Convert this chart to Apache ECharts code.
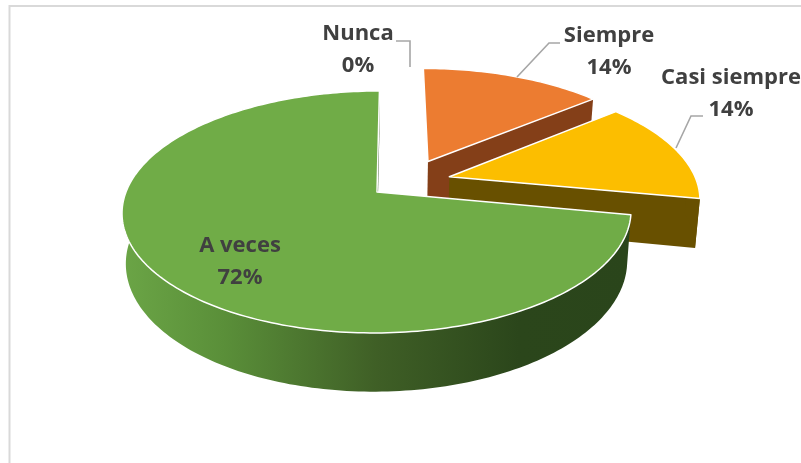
<!DOCTYPE html>
<html><head><meta charset="utf-8">
<style>html,body{margin:0;padding:0;background:#fff}#c{width:801px;height:463px}</style>
<script src="https://cdn.jsdelivr.net/npm/echarts@6/dist/echarts.min.js"></script>
</head><body><div id="c"></div>
<script>
const categories = ['Siempre', 'Casi siempre', 'A veces', 'Nunca'];
const values = [14, 14, 72, 0];
const topColors = ['#ec7c31', '#fcbe00', '#70ac47', '#5b9bd5'];
const cutColors = ['#843f18', '#685000', '#2b451b', '#2e75b6'];
const explode = [[0.213, 0.27], [0.297, 0.132], [0.004, 0], [0.2, 0.3]];
const labelAt = [[609, 52], [731, 94], [240, 262], [358, 50]];
const leaders = [
  [[517, 77], [549, 43], [560, 43]],
  [[676, 148], [691, 116], [703, 116]],
  [],
  [[396, 41], [410, 41], [410, 67]]
];
const total = values.reduce((a, b) => a + b, 0);
const CX = 376, CY = 192, A = 251, B = 117.7, K = 0.165, H = 49, SHRINK = 0.985, SHEAR = 3;

function project(u, v, low) {
  const w = 1 + K * v;
  const x = (A * u + SHEAR * v) / w, y = -B * v / w;
  return low ? [CX + x * SHRINK, CY + y + H / w] : [CX + x, CY + y];
}
function arc(t0, t1, off, low) {
  const n = Math.max(2, Math.ceil((t1 - t0) / 0.02));
  const pts = [];
  for (let i = 0; i <= n; i++) {
    const t = t0 + (t1 - t0) * i / n;
    pts.push(project(off[0] + Math.sin(t), off[1] + Math.cos(t), low));
  }
  return pts;
}
const poly = (points, style) => ({ type: 'polygon', shape: { points }, style });
// The outer wall is visible only on the near half of the rim.
const NEAR0 = Math.PI * 0.47, NEAR1 = Math.PI * 1.53;

function renderItem(params, api) {
  const i = params.dataIndex;
  let start = 0;
  for (let k = 0; k < i; k++) start += values[k];
  const t0 = start / total * 2 * Math.PI;
  const t1 = (start + api.value(0)) / total * 2 * Math.PI;
  const off = explode[i];
  const children = [];
  if (t1 > t0) {
    const apexT = project(off[0], off[1], false), apexB = project(off[0], off[1], true);
    const topArc = arc(t0, t1, off, false), lowArc = arc(t0, t1, off, true);
    const endT = topArc[topArc.length - 1], endB = lowArc[lowArc.length - 1];
    children.push(poly([apexT, endT, endB, apexB], { fill: cutColors[i] }));
    const w0 = Math.max(t0, NEAR0), w1 = Math.min(t1, NEAR1);
    if (w1 > w0) {
      const wallFill = i === 2
        ? new echarts.graphic.LinearGradient(0, 0, 1, 0, [
            { offset: 0, color: '#6ba546' }, { offset: 0.2, color: '#5a8f39' },
            { offset: 0.5, color: '#3f5f26' }, { offset: 0.78, color: '#2b461b' },
            { offset: 1, color: '#2a451b' }])
        : cutColors[i];
      children.push(poly(arc(w0, w1, off, false).concat(arc(w0, w1, off, true).reverse()), { fill: wallFill }));
    }
    children.push(poly([apexT].concat(topArc), { fill: topColors[i], stroke: '#fff', lineWidth: 1.5, lineJoin: 'round' }));
  }
  if (leaders[i].length) {
    children.push({ type: 'polyline', shape: { points: leaders[i] }, style: { stroke: '#a6a6a6', lineWidth: 1.6, fill: null } });
  }
  const pct = Math.round(api.value(0) / total * 100) + '%';
  children.push({
    type: 'text',
    x: labelAt[i][0], y: labelAt[i][1],
    style: {
      text: categories[i] + '\n' + pct,
      font: 'bold 22px "Open Sans", sans-serif',
      fill: '#404040', align: 'center', verticalAlign: 'middle', lineHeight: 32
    }
  });
  return { type: 'group', children };
}

const chart = echarts.init(document.getElementById('c'), null, { renderer: 'canvas' });
chart.setOption({
  animation: false,
  backgroundColor: '#fff',
  graphic: [
    { type: 'polyline', shape: { points: [[9.5, 463], [9.5, 6], [801, 6]] }, style: { stroke: '#d9d9d9', lineWidth: 2, fill: null }, silent: true }
  ],
  series: [{
    type: 'custom',
    coordinateSystem: 'none',
    data: values.map((v, i) => ({ name: categories[i], value: [v] })),
    renderItem
  }]
});
</script></body></html>
